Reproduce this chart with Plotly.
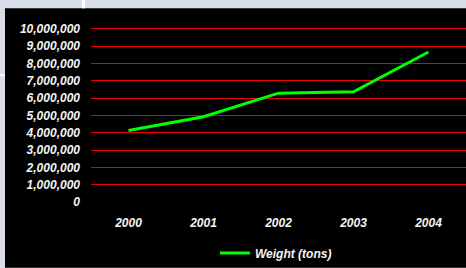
import plotly.graph_objects as go

years = ["2000", "2001", "2002", "2003", "2004"]
weight_tons = [4130000, 4930000, 6290000, 6370000, 8670000]
y_ticks = [0, 1000000, 2000000, 3000000, 4000000, 5000000, 6000000, 7000000, 8000000, 9000000, 10000000]
y_tick_labels = ["0", "1,000,000", "2,000,000", "3,000,000", "4,000,000", "5,000,000",
                 "6,000,000", "7,000,000", "8,000,000", "9,000,000", "10,000,000"]

W, H = 466, 268
L, R, T, B = 91, 0, 27, 63
pw, ph = W - L - R, H - T - B
y_top = 10000000 * ph / 176.0

def px_x(x):
    return (x - L) / pw

def px_y(y):
    return (H - B - y) / ph

font = dict(family="Liberation Sans, Arial, sans-serif", size=12, color="#f4f4f4",
            weight="bold", style="italic")

fig = go.Figure()
fig.add_trace(go.Scatter(x=years, y=weight_tons, mode="lines", name="Weight (tons)",
                         line=dict(color="#00ff00", width=3)))

shapes = [
    dict(type="rect", xref="paper", yref="paper", x0=px_x(5), x1=px_x(470), y0=px_y(272), y1=px_y(8),
         fillcolor="#000000", line=dict(width=0), layer="below"),
    dict(type="rect", xref="paper", yref="paper", x0=px_x(82), x1=px_x(85), y0=px_y(8), y1=px_y(-2),
         fillcolor="#ffffff", line=dict(width=0), layer="below"),
    dict(type="rect", xref="paper", yref="paper", x0=px_x(-2), x1=px_x(5), y0=px_y(77), y1=px_y(75),
         fillcolor="#ffffff", line=dict(width=0), layer="below"),
]

fig.update_layout(
    width=W, height=H,
    margin=dict(l=L, r=R, t=T, b=B, pad=0),
    paper_bgcolor="#d9dde7",
    plot_bgcolor="#000000",
    shapes=shapes,
    showlegend=True,
    legend=dict(orientation="h", x=px_x(215), xanchor="left", y=px_y(257), yanchor="middle",
                font=font, bgcolor="rgba(0,0,0,0)", itemwidth=30),
    xaxis=dict(type="category", showgrid=False, zeroline=False, showline=False, ticks="",
               tickfont=font, ticklabelstandoff=12, range=[-0.5, 4.5]),
    yaxis=dict(range=[0, y_top], tickvals=y_ticks, ticktext=y_tick_labels,
               showgrid=True, gridcolor="#f00000", gridwidth=1.4,
               zeroline=True, zerolinecolor="#000000", zerolinewidth=3,
               showline=False, ticks="", tickfont=font, ticklabelstandoff=10),
)

fig.write_html("out.html", config={"displayModeBar": False},
               post_script="document.body.style.margin='0';document.body.style.overflow='hidden';")
